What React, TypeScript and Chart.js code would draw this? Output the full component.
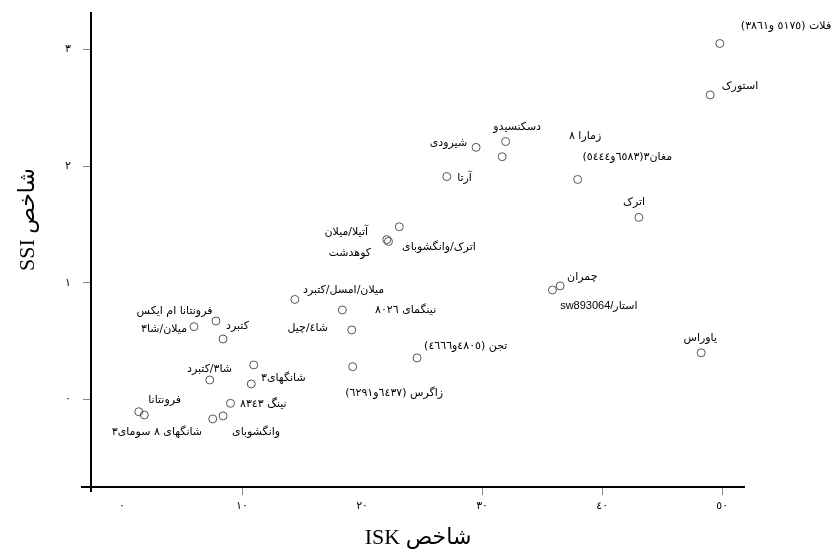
import React, { useEffect, useRef } from 'react';
import { Chart, registerables } from 'chart.js';

Chart.register(...registerables);

// ISK index (x) and SSI index (y) for each cultivar point
const iskValues = [49.8, 49.0, 31.96, 31.67, 29.5, 27.06, 37.96, 43.06, 23.1, 22.06, 22.2, 14.4, 18.36, 19.14, 7.83, 6.0, 8.42, 24.58, 10.98, 19.22, 7.31, 10.77, 9.04, 1.4, 1.86, 7.56, 8.42, 35.86, 36.5, 48.25];
const ssiValues = [3.05, 2.61, 2.21, 2.08, 2.16, 1.91, 1.885, 1.56, 1.48, 1.37, 1.354, 0.857, 0.767, 0.596, 0.673, 0.624, 0.518, 0.356, 0.296, 0.281, 0.167, 0.133, -0.033, -0.105, -0.133, -0.167, -0.141, 0.938, 0.973, 0.4];

const xTickValues = [0, 10, 20, 30, 40, 50];
const xTickLabels = ['٠', '١٠', '٢٠', '٣٠', '٤٠', '٥٠'];
const yTickValues = [0, 1, 2, 3];
const yTickLabels = ['٠', '١', '٢', '٣'];

const xTitle = 'شاخص ISK';
const yTitle = 'شاخص SSI';

// label texts
const labelTexts = [
  'فلات (٥١٧٥ و٣٨٦١)',
  'استورک',
  'دسکنسیدو',
  'زمارا ٨',
  'مغان٣(٦٥٨٣و٥٤٤٤)',
  'شیرودی',
  'آرتا',
  'اترک',
  'آتیلا/میلان',
  'کوهدشت',
  'اترک/وانگشوبای',
  'میلان/امسل/کتبرد',
  'نینگمای ٨٠٢٦',
  'شا٤/چیل',
  'فرونتانا ام ایکس',
  'میلان/شا٣',
  'کتبرد',
  'تجن (٤٨٠٥و٤٦٦٦)',
  'شا٣/کتبرد',
  'شانگهای٣',
  'زاگرس (٦٤٣٧و٦٢٩١)',
  'نینگ ٨٣٤٣',
  'فرونتانا',
  'شانگهای ٨ سومای٣',
  'وانگشوبای',
  'چمران',
  'استار/sw893064',
  'یاوراس',
];

// label anchor placements in data units [isk, ssi, align]
const labelPlacements: [number, number, CanvasTextAlign][] = [
  [59.08, 3.197, 'right'],
  [53.0, 2.686, 'right'],
  [32.92, 2.335, 'center'],
  [38.58, 2.258, 'center'],
  [45.83, 2.078, 'right'],
  [28.75, 2.198, 'right'],
  [27.92, 1.898, 'left'],
  [43.58, 1.692, 'right'],
  [20.5, 1.435, 'right'],
  [20.75, 1.255, 'right'],
  [23.33, 1.307, 'left'],
  [15.08, 0.938, 'left'],
  [21.08, 0.767, 'left'],
  [17.17, 0.613, 'right'],
  [7.54, 0.758, 'right'],
  [5.42, 0.604, 'right'],
  [8.67, 0.63, 'left'],
  [25.17, 0.458, 'left'],
  [9.17, 0.261, 'right'],
  [11.58, 0.184, 'left'],
  [26.75, 0.056, 'right'],
  [9.83, -0.039, 'left'],
  [4.92, -0.004, 'right'],
  [6.67, -0.278, 'right'],
  [13.17, -0.278, 'right'],
  [37.08, 1.05, 'left'],
  [36.5, 0.801, 'left'],
  [48.17, 0.527, 'center'],
];

const ARABIC_FONT = '"DejaVu Sans", sans-serif';
const TITLE_FONT = '"Liberation Serif", "DejaVu Sans", serif';

const overlayPlugin = {
  id: 'overlay',
  afterDatasetsDraw(chart: any) {
    const { ctx, chartArea, scales } = chart;
    const xs = scales.x;
    const ys = scales.y;
    ctx.save();
    // point labels
    ctx.fillStyle = '#000';
    ctx.textBaseline = 'middle';
    ctx.direction = 'rtl';
    labelTexts.forEach((t, i) => {
      const [lx, ly, al] = labelPlacements[i];
      ctx.font = '11px ' + ARABIC_FONT;
      if (/sw893064/.test(t)) ctx.font = '11px "Liberation Sans", "DejaVu Sans", sans-serif';
      ctx.textAlign = al;
      ctx.fillText(t, xs.getPixelForValue(lx), ys.getPixelForValue(ly));
    });
    // axes lines
    ctx.strokeStyle = '#000';
    ctx.lineWidth = 2;
    ctx.beginPath();
    ctx.moveTo(chartArea.left - 10, chartArea.bottom);
    ctx.lineTo(chartArea.right, chartArea.bottom);
    ctx.moveTo(chartArea.left, chartArea.top);
    ctx.lineTo(chartArea.left, chartArea.bottom + 5);
    ctx.stroke();
    // titles
    ctx.font = '22px ' + TITLE_FONT;
    ctx.textAlign = 'center';
    ctx.textBaseline = 'middle';
    ctx.fillText(xTitle, (chartArea.left + chartArea.right) / 2, chartArea.bottom + 51);
    ctx.translate(28, (chartArea.top + chartArea.bottom) / 2 - 30);
    ctx.rotate(-Math.PI / 2);
    ctx.fillText(yTitle, 0, 0);
    ctx.restore();
  },
};

export default function App() {
  const canvasRef = useRef<HTMLCanvasElement | null>(null);

  useEffect(() => {
    if (!canvasRef.current) return;
    const chart = new Chart(canvasRef.current, {
      type: 'scatter',
      data: {
        datasets: [
          {
            data: iskValues.map((x, i) => ({ x, y: ssiValues[i] })),
            pointStyle: 'circle',
            pointRadius: 4,
            pointBorderWidth: 1,
            borderColor: '#555',
            backgroundColor: 'rgba(0,0,0,0)',
          },
        ],
      },
      options: {
        responsive: false,
        animation: false,
        devicePixelRatio: 1,
        layout: { padding: { top: 12, right: 87, bottom: 0, left: 0 } },
        plugins: { legend: { display: false }, tooltip: { enabled: false } },
        scales: {
          x: {
            type: 'linear',
            min: -2.58,
            max: 51.9,
            afterBuildTicks: (s: any) => {
              s.ticks = xTickValues.map((v) => ({ value: v }));
            },
            afterFit: (s: any) => {
              s.height = 69;
              s.paddingLeft = 0;
              s.paddingRight = 0;
              s.paddingTop = 0;
              s.paddingBottom = 0;
            },
            border: { display: false },
            grid: {
              drawOnChartArea: false,
              drawTicks: true,
              tickLength: 8,
              tickColor: (c: any) =>
                c.tick && (c.tick.value === 0 || c.tick.value === 20) ? 'rgba(0,0,0,0)' : '#888',
              lineWidth: 1,
            },
            ticks: {
              padding: 5,
              color: '#000',
              font: { family: ARABIC_FONT, size: 11 },
              maxRotation: 0,
              callback: (v: any) => {
                const i = xTickValues.indexOf(Number(v));
                return i >= 0 ? xTickLabels[i] : '';
              },
            },
          },
          y: {
            type: 'linear',
            min: -0.75,
            max: 3.32,
            afterBuildTicks: (s: any) => {
              s.ticks = yTickValues.map((v) => ({ value: v }));
            },
            afterFit: (s: any) => {
              s.width = 91;
              s.paddingLeft = 0;
              s.paddingRight = 0;
              s.paddingTop = 0;
              s.paddingBottom = 0;
            },
            border: { display: false },
            grid: {
              drawOnChartArea: false,
              drawTicks: true,
              tickLength: 8,
              tickColor: '#888',
              lineWidth: 1,
            },
            ticks: {
              padding: 12,
              color: '#000',
              font: { family: ARABIC_FONT, size: 11 },
              callback: (v: any) => {
                const i = yTickValues.indexOf(Number(v));
                return i >= 0 ? yTickLabels[i] : '';
              },
            },
          },
        },
      },
      plugins: [overlayPlugin],
    });
    return () => chart.destroy();
  }, []);

  return (
    <div style={{ position: 'absolute', left: 0, top: 0, width: 832, height: 556, background: '#fff' }}>
      <canvas ref={canvasRef} width={832} height={556} />
    </div>
  );
}
